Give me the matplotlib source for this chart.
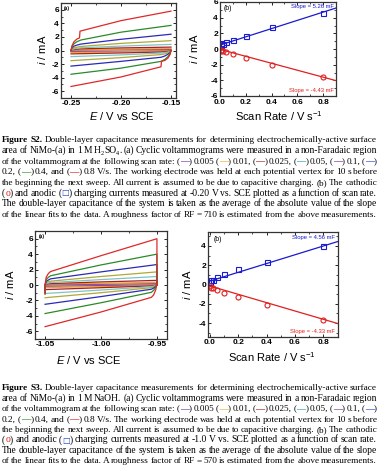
import numpy as np
import matplotlib
matplotlib.use("Agg")
import matplotlib.pyplot as plt
from matplotlib.transforms import IdentityTransform
from matplotlib.ticker import MultipleLocator

plt.rcParams['mathtext.fontset'] = 'custom'
plt.rcParams['mathtext.rm'] = 'Liberation Sans'
plt.rcParams['mathtext.it'] = 'Liberation Sans:italic'
plt.rcParams['font.family'] = ['Liberation Sans', 'DejaVu Sans']

# ---------------- data ----------------
scan_rates = [0.005, 0.01, 0.025, 0.05, 0.1, 0.2, 0.4, 0.8]
cv_colors = ['#7a3a8f', '#f0a030', '#a82020', '#7cc4c4', '#b0a838', '#2a2ab8', '#2a8a2a', '#e02828']

# S2 (H2SO4) cyclic voltammograms: anodic branches
s2_an_E = [-0.25, -0.249, -0.247, -0.244, -0.24, -0.20, -0.15]
s2_an_E_red = [-0.25, -0.249, -0.247, -0.244, -0.2415, -0.241, -0.20, -0.15]
s2_an_I = [
    [0, 0.03, 0.05, 0.06, 0.07, 0.12, 0.16],
    [0, 0.05, 0.08, 0.10, 0.12, 0.20, 0.28],
    [0, 0.10, 0.15, 0.20, 0.25, 0.38, 0.50],
    [0, 0.15, 0.25, 0.32, 0.40, 0.65, 0.90],
    [0, 0.25, 0.40, 0.50, 0.60, 1.05, 1.45],
    [0, 0.40, 0.65, 0.80, 0.95, 1.65, 2.40],
    [0, 0.60, 1.00, 1.30, 1.55, 2.70, 3.70],
]
s2_an_I_red = [0, 0.7, 1.3, 1.7, 1.85, 2.85, 4.4, 5.8]
# S2 cathodic branches
s2_ca_E = [-0.15, -0.151, -0.153, -0.156, -0.16, -0.20, -0.25]
s2_ca_E_red = [-0.15, -0.151, -0.153, -0.156, -0.1595, -0.16, -0.20, -0.25]
s2_ca_I = [
    [0, -0.03, -0.05, -0.06, -0.07, -0.12, -0.16],
    [0, -0.05, -0.08, -0.10, -0.12, -0.20, -0.28],
    [0, -0.08, -0.13, -0.18, -0.22, -0.36, -0.50],
    [0, -0.12, -0.22, -0.30, -0.38, -0.65, -0.90],
    [0, -0.20, -0.35, -0.50, -0.60, -1.05, -1.50],
    [0, -0.30, -0.55, -0.80, -1.00, -1.60, -2.30],
    [0, -0.50, -0.90, -1.30, -1.60, -2.60, -3.50],
]
s2_ca_I_red = [0, -0.6, -1.1, -1.45, -1.6, -2.4, -3.9, -5.3]

# S3 (NaOH) cyclic voltammograms
s3_an_E = [-1.05, -1.05, -1.049, -1.047, -1.045, -1.00, -0.95, -0.95]
s3_an_I = [
    [-0.2, 0, 0.03, 0.04, 0.05, 0.10, 0.16, 0],
    [-0.4, 0, 0.06, 0.09, 0.10, 0.22, 0.35, 0],
    [-0.6, 0, 0.10, 0.15, 0.18, 0.40, 0.60, 0],
    [-0.8, 0, 0.20, 0.27, 0.32, 0.70, 1.10, 0],
    [-0.9, 0, 0.30, 0.42, 0.50, 1.10, 1.70, 0],
    [-1.0, 0, 0.45, 0.65, 0.80, 1.70, 2.65, 0],
    [-1.1, 0, 0.70, 1.00, 1.20, 2.60, 4.00, 0],
    [-1.2, 0, 1.00, 1.50, 1.75, 3.80, 6.00, 0],
]
s3_ca_E = [-0.95, -0.951, -0.953, -0.955, -1.00, -1.05]
s3_ca_I = [
    [0, -0.01, -0.02, -0.03, -0.09, -0.15],
    [0, -0.02, -0.05, -0.07, -0.20, -0.35],
    [0, -0.04, -0.08, -0.12, -0.35, -0.60],
    [0.03, -0.06, -0.15, -0.22, -0.65, -1.10],
    [0.05, -0.10, -0.25, -0.35, -1.00, -1.65],
    [0.10, -0.20, -0.40, -0.55, -1.50, -2.50],
    [0.20, -0.30, -0.70, -0.95, -2.30, -3.70],
    [0.30, -0.60, -1.30, -1.60, -3.50, -5.40],
]

# charging currents vs scan rate
s2_anodic = [0.55, 0.75, 0.65, 0.85, 1.10, 1.60, 2.75, 4.65]
s2_cathodic = [-0.10, -0.20, -0.30, -0.42, -0.65, -1.15, -2.00, -3.55]
s2_fit_an = (5.26, 0.50)
s2_fit_ca = (-4.43, -0.05)
s3_anodic = [0.30, 0.45, 0.50, 0.75, 1.05, 1.60, 2.30, 3.95]
s3_cathodic = [-0.17, -0.35, -0.40, -0.60, -0.85, -1.25, -2.10, -3.65]
s3_fit_an = (4.56, 0.35)
s3_fit_ca = (-4.33, -0.15)
fit_x = [0.0, 0.9]

# ---------------- figure ----------------
W, H, DPI = 379, 466, 100
fig = plt.figure(figsize=(W / DPI, H / DPI), dpi=DPI)

def ax_px(l, t, r, b):
    return fig.add_axes([l / W, 1 - b / H, (r - l) / W, (b - t) / H])

def style(ax):
    ax.tick_params(direction='in', top=True, right=True, length=2.5, width=0.6,
                   labelsize=6, pad=1.5, which='major')
    ax.tick_params(direction='in', top=True, right=True, length=1.5, width=0.5, which='minor')
    for lab in ax.get_xticklabels() + ax.get_yticklabels():
        lab.set_fontweight('bold')
    for s in ax.spines.values():
        s.set_linewidth(0.9)
        s.set_color('#333333')

LW = 0.9
# --- S2 (a)
axa = ax_px(61, 3, 176, 98)
for k in range(7):
    axa.plot(s2_an_E, s2_an_I[k], color=cv_colors[k], lw=LW)
    axa.plot(s2_ca_E, s2_ca_I[k], color=cv_colors[k], lw=LW)
axa.plot(s2_an_E_red, s2_an_I_red, color=cv_colors[7], lw=LW)
axa.plot(s2_ca_E_red, s2_ca_I_red, color=cv_colors[7], lw=LW)
axa.set_xlim(-0.26, -0.145)
axa.set_ylim(-7, 7)
axa.set_xticks([-0.25, -0.20, -0.15])
axa.set_xticklabels(['-0.25', '-0.20', '-0.15'])
axa.set_yticks([-6, -4, -2, 0, 2, 4, 6])
axa.set_yticklabels(['-6', '-4', '-2', '0', '2', '4', '6'])
axa.xaxis.set_minor_locator(MultipleLocator(0.025))
axa.yaxis.set_minor_locator(MultipleLocator(1))
style(axa)
axa.text(0.02, 0.97, '(a)', transform=axa.transAxes, fontsize=3.5, va='top', ha='left', fontweight='bold')

# --- S2 (b)
axb = ax_px(220, 2, 336, 96)
axb.plot(fit_x, [s2_fit_an[1] + s2_fit_an[0] * x for x in fit_x], color='#1a1ad0', lw=LW)
axb.plot(fit_x, [s2_fit_ca[1] + s2_fit_ca[0] * x for x in fit_x], color='#e02020', lw=LW)
axb.plot(scan_rates, s2_anodic, 's', mfc='none', mec='#1a1ad0', ms=3.6, mew=0.8)
axb.plot(scan_rates, s2_cathodic, 'o', mfc='none', mec='#e02020', ms=3.6, mew=0.8)
axb.set_xlim(0, 0.9)
axb.set_ylim(-6, 6)
axb.set_xticks([0, 0.2, 0.4, 0.6, 0.8])
axb.set_xticklabels(['0.0', '0.2', '0.4', '0.6', '0.8'])
axb.set_yticks([-6, -4, -2, 0, 2, 4, 6])
axb.set_yticklabels(['-6', '-4', '-2', '0', '2', '4', '6'])
axb.xaxis.set_minor_locator(MultipleLocator(0.1))
axb.yaxis.set_minor_locator(MultipleLocator(1))
style(axb)
axb.tick_params(axis='x', pad=2.2)
axb.text(0.03, 0.97, '(b)', transform=axb.transAxes, fontsize=5, va='top', ha='left')
axb.text(0.98, 0.975, 'Slope = 5.26 mF', transform=axb.transAxes, fontsize=4.2, va='top', ha='right', color='#1a1ad0')
axb.text(0.98, 0.03, 'Slope = -4.43 mF', transform=axb.transAxes, fontsize=4.2, va='bottom', ha='right', color='#e02020')

# --- S3 (a)
axc = ax_px(35, 231, 167, 339)
for k in range(8):
    axc.plot(s3_an_E, s3_an_I[k], color=cv_colors[k], lw=LW)
    axc.plot(s3_ca_E, s3_ca_I[k], color=cv_colors[k], lw=LW)
axc.set_xlim(-1.059, -0.941)
axc.set_ylim(-7, 7)
axc.set_xticks([-1.05, -1.00, -0.95])
axc.set_xticklabels(['-1.05', '-1.00', '-0.95'])
axc.set_yticks([-6, -4, -2, 0, 2, 4, 6])
axc.set_yticklabels(['-6', '-4', '-2', '0', '2', '4', '6'])
axc.xaxis.set_minor_locator(MultipleLocator(0.025))
axc.yaxis.set_minor_locator(MultipleLocator(1))
style(axc)
axc.text(0.03, 0.97, '(a)', transform=axc.transAxes, fontsize=3.5, va='top', ha='left', fontweight='bold')

# --- S3 (b)
axd = ax_px(208, 232, 338, 337)
axd.plot(fit_x, [s3_fit_an[1] + s3_fit_an[0] * x for x in fit_x], color='#1a1ad0', lw=LW)
axd.plot(fit_x, [s3_fit_ca[1] + s3_fit_ca[0] * x for x in fit_x], color='#e02020', lw=LW)
axd.plot(scan_rates, s3_anodic, 's', mfc='none', mec='#1a1ad0', ms=3.6, mew=0.8)
axd.plot(scan_rates, s3_cathodic, 'o', mfc='none', mec='#e02020', ms=3.6, mew=0.8)
axd.set_xlim(-0.012, 0.903)
axd.set_ylim(-5.45, 5.45)
axd.set_xticks([0, 0.2, 0.4, 0.6, 0.8])
axd.set_xticklabels(['0.0', '0.2', '0.4', '0.6', '0.8'])
axd.set_yticks([-4, -2, 0, 2, 4])
axd.set_yticklabels(['-4', '-2', '0', '2', '4'])
axd.xaxis.set_minor_locator(MultipleLocator(0.1))
axd.yaxis.set_minor_locator(MultipleLocator(1))
style(axd)
axd.text(0.04, 0.96, '(b)', transform=axd.transAxes, fontsize=5, va='top', ha='left')
axd.text(0.98, 0.975, 'Slope = 4.56 mF', transform=axd.transAxes, fontsize=4.2, va='top', ha='right', color='#1a1ad0')
axd.text(0.98, 0.03, 'Slope = -4.33 mF', transform=axd.transAxes, fontsize=4.2, va='bottom', ha='right', color='#e02020')

# axis labels placed in pixel positions
def ptext(x, y, s, **kw):
    fig.text(x / W, 1 - y / H, s, ha='center', va='center', **kw)

ptext(42, 50, r'$\it{i}$ / mA', fontsize=8, rotation=90)
ptext(122, 116, r'$\it{E}$ / V vs SCE', fontsize=8)
ptext(194, 49, r'$\it{i}$ / mA', fontsize=8, rotation=90)
ptext(279, 116, r'Scan Rate / V s$^{-1}$', fontsize=8)
ptext(10, 285, r'$\it{i}$ / mA', fontsize=8, rotation=90)
ptext(89, 360, r'$\it{E}$ / V vs SCE', fontsize=8)
ptext(187, 285, r'$\it{i}$ / mA', fontsize=8, rotation=90)
ptext(272, 357, r'Scan Rate / V s$^{-1}$', fontsize=8)

# ---------------- captions (justified) ----------------
dash_colors = ['#7030a0', '#f5a623', '#a01818', '#20a0a0', '#6a3090', '#2040d0', '#209020', '#e01818']
cap_s2 = [
    "Figure S2. Double-layer capacitance measurements for determining electrochemically-active surface",
    "area of NiMo-(a) in 1 M H2SO4. (a) Cyclic voltammograms were measured in a non-Faradaic region",
    "of the voltammogram at the following scan rate: (#0) 0.005 (#1) 0.01, (#2) 0.025, (#3) 0.05, (#4) 0.1, (#5)",
    "0.2, (#6) 0.4, and (#7) 0.8 V/s. The working electrode was held at each potential vertex for 10 s before",
    "the beginning the next sweep. All current is assumed to be due to capacitive charging. (b) The cathodic",
    "(@o) and anodic (@s) charging currents measured at -0.20 V vs. SCE plotted as a function of scan rate.",
    "The double-layer capacitance of the system is taken as the average of the absolute value of the slope",
    "of the linear fits to the data. A roughness factor of RF = 710 is estimated from the above measurements.",
]
cap_s3 = [
    "Figure S3. Double-layer capacitance measurements for determining electrochemically-active surface",
    "area of NiMo-(a) in 1 M NaOH. (a) Cyclic voltammograms were measured in a non-Faradaic region",
    "of the voltammogram at the following scan rate: (#0) 0.005 (#1) 0.01, (#2) 0.025, (#3) 0.05, (#4) 0.1, (#5)",
    "0.2, (#6) 0.4, and (#7) 0.8 V/s. The working electrode was held at each potential vertex for 10 s before",
    "the beginning the next sweep. All current is assumed to be due to capacitive charging. (b) The cathodic",
    "(@o) and anodic (@s) charging currents measured at -1.0 V vs. SCE plotted as a function of scan rate.",
    "The double-layer capacitance of the system is taken as the average of the absolute value of the slope",
    "of the linear fits to the data. A roughness factor of RF = 570 is estimated from the above measurements.",
]

SERIF = ['Liberation Serif', 'DejaVu Serif']
K = 'black'

def parse(word):
    # returns list of runs: (text, color, weight, family, scale, rise)
    if word.startswith('(#'):
        k = int(word[2])
        return [('(', K, 'normal', SERIF, 1, 0), ('\u2014', dash_colors[k], 'bold', SERIF, 1, 0),
                (')', K, 'normal', SERIF, 1, 0)]
    if word == '(@o)':
        return [('(', K, 'normal', SERIF, 1, 0), ('o', '#e01818', 'normal', SERIF, 1, 0),
                (')', K, 'normal', SERIF, 1, 0)]
    if word == '(@s)':
        return [('(', K, 'normal', SERIF, 1, 0), ('\u25a1', '#2040d0', 'normal', ['DejaVu Sans'], 0.85, 0),
                (')', K, 'normal', SERIF, 1, 0)]
    if word == 'H2SO4.':
        return [('H', K, 'normal', SERIF, 1, 0), ('2', K, 'normal', SERIF, 0.65, -1.5),
                ('SO', K, 'normal', SERIF, 1, 0), ('4', K, 'normal', SERIF, 0.65, -1.5),
                ('.', K, 'normal', SERIF, 1, 0)]
    return [(word, K, 'normal', SERIF, 1, 0)]

FS = 6.9
GMIN = 1.7
fig.canvas.draw()
renderer = fig.canvas.get_renderer()
ident = IdentityTransform()

def caption(lines, y0, dy, x0=2.0, x1=377.0):
    L = x1 - x0
    for li, line in enumerate(lines):
        words = [parse(w) for w in line.split(' ')]
        if li == 0:
            words[0] = [(words[0][0][0], K, 'bold', SERIF, 1.0, 0)]
            words[1] = [(words[1][0][0], K, 'bold', SERIF, 1.0, 0)]
        ybase = H - (y0 + li * dy)
        objs = []
        for runs in words:
            wobjs = []
            for (s, c, wt, fam, sc, rise) in runs:
                t = fig.text(0, 0, s, transform=ident, fontsize=FS * sc, color=c,
                             fontweight=wt, family=fam, va='baseline', ha='left')
                wd = t.get_window_extent(renderer).width
                wobjs.append([t, wd, rise, sc])
            objs.append(wobjs)
        S = sum(r[1] for w in objs for r in w)
        n = len(words)
        f = min(1.0, (L - (n - 1) * GMIN) / S)
        if f < 1.0:
            for w in objs:
                for r in w:
                    r[0].set_fontsize(FS * r[3] * f)
                    r[1] = r[0].get_window_extent(renderer).width
        S = sum(r[1] for w in objs for r in w)
        gap = (L - S) / max(n - 1, 1)
        x = x0
        for w in objs:
            for r in w:
                r[0].set_position((x, ybase + r[2]))
                x += r[1]
            x += gap

caption(cap_s2, 142.5, 10.6)
caption(cap_s3, 390.5, 10.4)

fig.savefig('out.png', dpi=DPI)
